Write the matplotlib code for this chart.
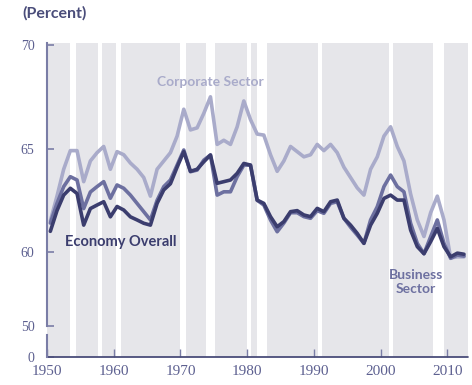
import numpy as np
import matplotlib
matplotlib.use("Agg")
import matplotlib.pyplot as plt

years = list(range(1950, 2013))

corporate = [61.5, 62.7, 64.0, 64.9, 64.9, 63.4, 64.4, 64.8, 65.1, 64.0,
             64.85, 64.7, 64.3, 64.0, 63.6, 62.7, 64.0, 64.4, 64.8, 65.6,
             66.9, 65.9, 66.0, 66.7, 67.5, 65.2, 65.4, 65.2, 66.05, 67.3,
             66.4, 65.7, 65.65, 64.7, 63.9, 64.4, 65.1, 64.85, 64.6, 64.7,
             65.2, 64.9, 65.2, 64.8, 64.1, 63.6, 63.1, 62.75, 64.0, 64.6,
             65.6, 66.05, 65.1, 64.4, 62.8, 61.55, 60.75, 61.9, 62.7, 61.55,
             59.2, 59.35, 59.35]

business = [61.4, 62.35, 63.16, 63.64, 63.48, 62.1, 62.9, 63.16, 63.4, 62.6,
            63.24, 63.08, 62.75, 62.35, 61.95, 61.55, 62.5, 63.16, 63.48, 64.2,
            64.93, 63.88, 63.96, 64.44, 64.69, 62.75, 62.91, 62.91, 63.64, 64.2,
            64.2, 62.5, 62.27, 61.55, 60.98, 61.4, 61.9, 61.9, 61.71, 61.63,
            62.0, 61.87, 62.35, 62.43, 61.63, 61.2, 60.82, 60.42, 61.55, 62.19,
            63.16, 63.72, 63.16, 62.91, 61.39, 60.42, 59.77, 60.74, 61.55, 60.42,
            59.15, 59.6, 59.45]

economy = [61.0, 62.0, 62.75, 63.08, 62.83, 61.3, 62.1, 62.27, 62.43, 61.7,
           62.2, 62.03, 61.7, 61.55, 61.39, 61.3, 62.35, 63.0, 63.3, 64.1,
           64.85, 63.9, 64.0, 64.36, 64.69, 63.32, 63.4, 63.48, 63.8, 64.28,
           64.2, 62.51, 62.35, 61.71, 61.22, 61.47, 61.95, 62.0, 61.79, 61.71,
           62.11, 61.95, 62.43, 62.51, 61.63, 61.3, 60.9, 60.42, 61.3, 61.87,
           62.59, 62.75, 62.51, 62.51, 61.06, 60.26, 59.77, 60.5, 61.14, 60.26,
           59.35, 59.85, 59.7]

recessions = [(1953.5, 1954.4), (1957.6, 1958.3), (1960.3, 1961.1),
              (1969.9, 1970.9), (1973.9, 1975.2), (1980.0, 1980.6),
              (1981.5, 1982.9), (1990.6, 1991.2), (2001.2, 2001.9),
              (2007.9, 2009.5)]

y_ticks = [0, 50, 60, 65, 70]
x_ticks = [1950, 1960, 1970, 1980, 1990, 2000, 2010]

c_corp = "#a9abca"
c_bus = "#6d70a0"
c_eco = "#3b3d6e"
c_axis = "#7a7da6"
c_text = "#5d6090"

# piecewise (broken) y scale
vals = [0, 50, 60, 70, 80]
pos = [-357, -326, -252, -45, 162]
def fwd(v):
    return np.interp(v, vals, pos)
def inv(p):
    return np.interp(p, pos, vals)

fig = plt.figure(figsize=(4.72, 3.85), dpi=100)
fig.patch.set_facecolor("white")
ax = fig.add_axes([47/472, 1-357/385, 421/472, 314/385])
ax.set_yscale("function", functions=(fwd, inv))
ax.set_facecolor("#e6e6ea")

for a, b in recessions:
    ax.axvspan(a, b, color="white", lw=0, zorder=0.5)

xs = np.array(years) + 0.5
ax.plot(xs, corporate, color=c_corp, lw=2.6, solid_capstyle="round", solid_joinstyle="round", zorder=3)
ax.plot(xs, business, color=c_bus, lw=2.6, solid_capstyle="round", solid_joinstyle="round", zorder=4)
ax.plot(xs, economy, color=c_eco, lw=2.6, solid_capstyle="round", solid_joinstyle="round", zorder=5)

ax.set_xlim(1950, 2013.1)
ax.set_ylim(0, 70.1)

for s in ["top", "right"]:
    ax.spines[s].set_visible(False)
ax.spines["left"].set_bounds(50, 70.1)
ax.spines["left"].set_color(c_axis)
ax.spines["left"].set_linewidth(1.5)
ax.spines["bottom"].set_color("#4a4d7a")
ax.spines["bottom"].set_linewidth(1.3)
ax.spines["bottom"].set_linestyle((0, (1, 1)))
ax.plot([0, 0], [0, 35], transform=ax.get_yaxis_transform(), color=c_axis,
        lw=1.5, clip_on=False, zorder=6)

ax.set_yticks(y_ticks)
ax.set_yticklabels([str(t) for t in y_ticks])
ax.tick_params(axis="y", direction="in", length=5, width=1.2, color=c_axis,
               labelcolor=c_text, labelsize=10, pad=9)
ax.set_xticks(x_ticks)
ax.set_xticklabels([str(t) for t in x_ticks], family="Liberation Serif")
ax.tick_params(axis="x", direction="in", length=6, width=1.0, color=c_axis,
               labelcolor=c_text, labelsize=11, pad=6)
ax.minorticks_off()
for lab in ax.get_yticklabels():
    lab.set_family("Liberation Serif")

ax.text(0.261, 0.876, "Corporate Sector", transform=ax.transAxes, color=c_corp,
        fontsize=10, fontweight="bold", family="Lato", ha="left", va="center")
ax.text(0.043, 0.366, "Economy Overall", transform=ax.transAxes, color=c_eco,
        fontsize=10.5, fontweight="bold", family="Lato", ha="left", va="center")
ax.text(0.876, 0.239, "Business\nSector", transform=ax.transAxes, color=c_bus,
        fontsize=10, fontweight="bold", family="Lato", ha="center", va="center",
        linespacing=1.2)
fig.text(22/472, 1-13/385, "(Percent)", color="#4a4d7a", fontsize=11.5,
         fontweight="bold", family="Lato", ha="left", va="center")

fig.savefig("out.png", dpi=100)
